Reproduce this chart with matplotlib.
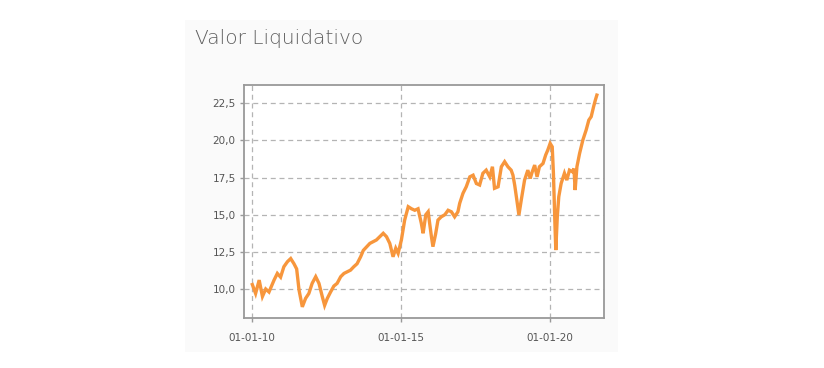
import matplotlib
matplotlib.use("Agg")
import matplotlib.pyplot as plt
import matplotlib.dates as mdates
from matplotlib.patches import Rectangle
from matplotlib.ticker import FuncFormatter, FixedLocator
import pandas as pd

title = "Valor Liquidativo"

# fractional years (time) and net asset value
years = [
    2010.01, 2010.12, 2010.24, 2010.35, 2010.46, 2010.57, 2010.74, 2010.85, 2010.96,
    2011.07, 2011.19, 2011.30, 2011.41, 2011.50, 2011.58, 2011.69, 2011.80, 2011.91,
    2012.02, 2012.14, 2012.25, 2012.36, 2012.44, 2012.53, 2012.64, 2012.75, 2012.86, 2012.98,
    2013.09, 2013.20, 2013.31, 2013.42, 2013.53, 2013.65, 2013.74, 2013.96,
    2014.18, 2014.41, 2014.52, 2014.63, 2014.74, 2014.83, 2014.91,
    2015.02, 2015.13, 2015.25, 2015.36, 2015.47, 2015.58, 2015.69, 2015.75, 2015.84, 2015.92, 2015.97,
    2016.03, 2016.08, 2016.17, 2016.25, 2016.36, 2016.48, 2016.59, 2016.70, 2016.81, 2016.92, 2016.98,
    2017.09, 2017.20, 2017.32, 2017.43, 2017.54, 2017.65, 2017.76, 2017.87, 2017.99,
    2018.08, 2018.15, 2018.27, 2018.38, 2018.49, 2018.60, 2018.71, 2018.77, 2018.83, 2018.90, 2018.97,
    2019.05, 2019.16, 2019.27, 2019.35, 2019.42, 2019.50, 2019.58, 2019.66, 2019.78, 2019.87, 2019.94,
    2020.02, 2020.09, 2020.13, 2020.18, 2020.21, 2020.26, 2020.31, 2020.39, 2020.50, 2020.58,
    2020.67, 2020.76, 2020.82, 2020.86, 2020.92,
    2021.01, 2021.12, 2021.23, 2021.32, 2021.40, 2021.48, 2021.54, 2021.59,
]
values = [
    10.3, 9.7, 10.6, 9.5, 10.0, 9.8, 10.6, 11.05, 10.8,
    11.5, 11.84, 12.05, 11.7, 11.35, 9.93, 8.8, 9.37, 9.7,
    10.38, 10.83, 10.38, 9.5, 8.9, 9.37, 9.8, 10.2, 10.38, 10.83,
    11.05, 11.16, 11.27, 11.5, 11.7, 12.17, 12.6, 13.07,
    13.3, 13.75, 13.52, 13.07, 12.17, 12.74, 12.4,
    13.3, 14.64, 15.54, 15.4, 15.3, 15.4, 14.42, 13.75, 15.0, 15.2, 14.42,
    13.52, 12.85, 13.7, 14.64, 14.86, 15.0, 15.3, 15.2, 14.86, 15.2, 15.77,
    16.44, 16.88, 17.55, 17.66, 17.1, 17.0, 17.79, 18.0, 17.55,
    18.23, 16.78, 16.88, 18.23, 18.57, 18.23, 18.0, 17.66, 16.97, 15.99, 14.98,
    16.0, 17.33, 18.0, 17.44, 17.9, 18.34, 17.55, 18.23, 18.45, 19.02, 19.35,
    19.8, 19.57, 17.79, 14.42, 12.62, 14.86, 16.21, 17.11, 17.79, 17.33,
    18.0, 17.9, 18.1, 16.66, 18.23,
    19.13, 20.03, 20.7, 21.37, 21.6, 22.27, 22.72, 23.05,
]
x_tick_dates = ["2010-01-01", "2015-01-01", "2020-01-01"]
y_ticks = [10.0, 12.5, 15.0, 17.5, 20.0, 22.5]


def year_to_date(y):
    return pd.Timestamp("2010-01-01") + pd.to_timedelta((y - 2010.0) * 365.25, unit="D")


dates = [year_to_date(y) for y in years]

fig = plt.figure(figsize=(8.24, 3.68), dpi=100)
fig.patch.set_facecolor("white")

# faint panel behind chart
fig.patches.append(Rectangle((185 / 824, 1 - 352 / 368), (618 - 185) / 824, (352 - 20) / 368,
                             transform=fig.transFigure, facecolor="#fafafa", edgecolor="none", zorder=-5))

fig.text(195 / 824, 1 - 38 / 368, title, fontsize=14.5, color="#606060", va="center", ha="left",
         family="DejaVu Sans", fontweight="light")

ax = fig.add_axes([244 / 824, 1 - 318 / 368, (604 - 244) / 824, (318 - 85) / 368])
ax.set_zorder(2)
ax.set_facecolor("white")
ax.plot(dates, values, color="#f7963c", linewidth=2.4, solid_joinstyle="miter", zorder=3)

ax.set_ylim(8.05, 23.73)
ax.set_xlim(year_to_date(2009.73), year_to_date(2021.83))

ax.yaxis.set_major_locator(FixedLocator(y_ticks))
ax.yaxis.set_major_formatter(FuncFormatter(lambda v, p: f"{v:.1f}".replace(".", ",")))
ax.xaxis.set_major_locator(FixedLocator([mdates.date2num(pd.Timestamp(d)) for d in x_tick_dates]))
ax.xaxis.set_major_formatter(mdates.DateFormatter("%d-%m-%y"))

ax.grid(True, color="#b4b4b4", linestyle=(0, (4, 3)), linewidth=0.9, zorder=1)
for s in ax.spines.values():
    s.set_color("#999999")
    s.set_linewidth(1.3)
ax.tick_params(axis="both", colors="#999999", length=3, width=1, labelcolor="#555555", labelsize=7.5)
ax.tick_params(axis="x", pad=8)
ax.tick_params(axis="y", pad=3)

fig.savefig("out.png", dpi=100)
